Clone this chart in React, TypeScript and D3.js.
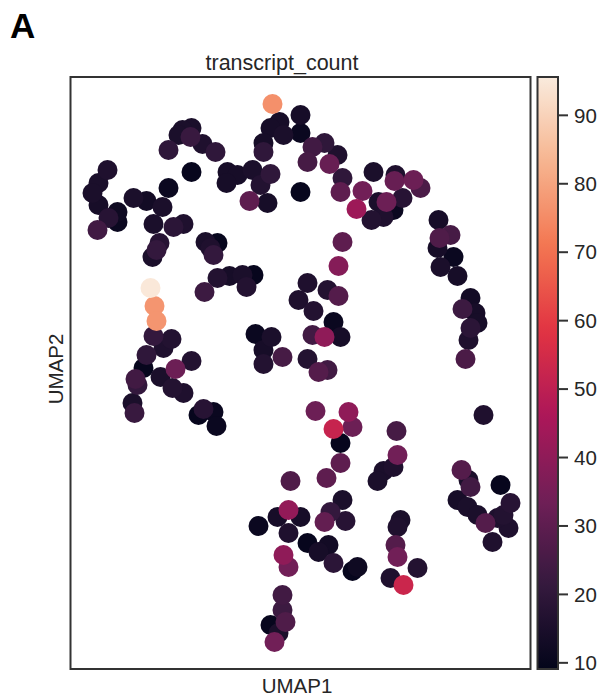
import React from "react";
import * as d3 from "d3";

// UMAP coordinates (arbitrary units) and transcript counts
const umap1: number[] = [
  20.2, 23.0, 20.9, 20.0, 21.3, 23.0, 19.3, 19.3, 23.7, 23.0,
  12.1, 11.2, 10.8, 12.0, 13.2, 14.5, 9.8, 12.1, 3.7, 2.8,
  2.2, 2.8, 3.8, 4.7, 4.7, 2.7, 6.3, 7.6, 9.2, 9.8,
  8.3, 10.3, 11.3, 8.9, 8.6, 8.2, 13.5, 14.7, 14.0, 14.3,
  15.7, 16.7, 15.6, 18.2, 20.0, 19.0, 17.9, 19.7,
  24.2, 25.4, 26.7, 25.9, 27.2, 27.0, 29.2, 28.6, 30.3, 32.5,
  32.4, 34.3, 35.0, 33.2, 31.6, 30.8, 32.3, 31.3, 30.1, 36.8,
  38.0, 36.9, 36.7, 38.3, 37.0, 38.7, 27.2, 26.8,
  8.0, 8.4, 8.6, 8.3, 10.1, 9.3, 7.6, 7.3, 6.5, 6.7,
  9.0, 10.5, 12.1, 10.2, 11.3, 6.2, 6.4, 13.3, 12.8, 14.3,
  14.6, 13.4, 14.7, 15.9, 17.2, 18.3, 17.6,
  18.5, 20.1, 19.3, 19.3, 21.2, 22.8, 23.7, 25.7, 26.8, 24.3,
  26.3, 27.0, 24.2, 25.4, 23.7, 24.8, 25.7,
  40.0, 39.2, 40.5, 40.7, 40.0, 39.8, 39.5, 41.3,
  24.5, 27.8, 28.2, 26.3, 27.0, 27.0, 25.6, 32.6, 32.7, 32.3,
  31.3, 30.7, 39.1,
  22.0, 21.8, 20.7, 23.0, 18.8, 21.8, 23.7, 21.3, 21.8, 21.2,
  21.2, 21.5, 20.0, 20.8, 20.4,
  27.2, 26.0, 25.4, 27.5, 24.8, 25.8, 26.3, 28.7, 28.2, 33.0,
  32.7, 32.5, 32.7, 34.7, 32.0, 33.3, 40.0, 39.8, 38.7, 39.7,
  43.0, 44.0, 43.3, 41.5, 43.8, 42.2, 40.7, 42.7,
];

const umap2: number[] = [
  56.5, 55.4, 54.7, 54.1, 53.4, 53.6, 52.6, 51.7, 50.7, 47.7,
  54.1, 53.9, 53.4, 53.2, 52.5, 51.7, 51.9, 49.7, 49.9, 48.6,
  47.6, 46.4, 45.1, 44.7, 45.7, 43.9, 47.1, 46.8, 46.2, 48.1,
  44.5, 44.2, 44.5, 42.6, 41.9, 41.2, 42.7, 42.6, 42.1, 41.4,
  49.7, 49.4, 48.6, 49.9, 49.5, 48.4, 46.8, 46.6,
  52.2, 52.6, 51.4, 50.5, 49.1, 47.7, 47.8, 46.0, 49.7, 49.4,
  48.8, 48.9, 48.1, 47.1, 46.7, 46.7, 45.9, 45.2, 44.9, 44.9,
  43.4, 43.1, 42.1, 41.2, 40.2, 39.3, 42.7, 40.3,
  38.1, 36.3, 34.8, 33.3, 33.0, 32.1, 31.4, 30.1, 29.0, 28.4,
  29.2, 30.0, 30.8, 28.1, 27.6, 26.6, 25.6, 26.0, 25.4, 25.7,
  24.3, 37.7, 39.1, 39.3, 39.4, 39.4, 38.2,
  33.5, 33.2, 31.9, 30.5, 31.2, 36.9, 38.6, 37.9, 37.3, 35.8,
  34.7, 33.2, 33.4, 33.2, 31.0, 29.7, 29.9,
  37.1, 36.0, 35.6, 34.6, 34.1, 32.9, 31.0, 25.4,
  25.8, 25.7, 24.2, 24.0, 22.6, 20.6, 19.1, 23.8, 21.4, 20.2,
  19.8, 18.8, 19.9,
  18.8, 15.9, 15.2, 15.2, 14.3, 13.6, 12.6, 11.4, 10.2, 7.4,
  5.9, 4.7, 4.4, 3.6, 2.7,
  16.9, 15.7, 14.7, 14.8, 11.7, 12.4, 10.6, 10.2, 9.8, 14.9,
  14.2, 12.4, 11.2, 10.1, 9.1, 8.4, 18.2, 18.9, 16.9, 16.2,
  18.4, 16.6, 15.4, 14.6, 14.1, 12.7, 15.4, 15.1,
];

const transcriptCount: number[] = [
  76, 14, 14, 14, 15, 11, 14, 20, 25, 10,
  15, 15, 15, 22, 16, 20, 20, 10, 16, 15,
  15, 14, 18, 11, 12, 24, 15, 13, 15, 11,
  15, 19, 16, 18, 21, 15, 15, 10, 16, 21,
  14, 14, 14, 15, 20, 17, 30, 14,
  24, 20, 16, 32, 20, 30, 34, 43, 15, 16,
  32, 33, 26, 18, 33, 15, 11, 16, 17, 14,
  25, 27, 14, 11, 15, 14, 30, 38,
  95, 77, 77, 21, 17, 16, 20, 10, 24, 21,
  15, 33, 17, 17, 16, 15, 22, 18, 10, 11,
  11, 23, 17, 14, 15, 10, 17,
  11, 15, 14, 17, 25, 16, 16, 17, 28, 17,
  11, 14, 24, 40, 17, 28, 24,
  13, 23, 14, 14, 19, 16, 26, 16,
  33, 40, 33, 52, 10, 30, 30, 25, 34, 16,
  15, 15, 28,
  27, 41, 14, 14, 11, 16, 10, 40, 34, 24,
  23, 27, 10, 15, 34,
  15, 21, 31, 18, 14, 13, 19, 12, 10, 15,
  16, 28, 34, 17, 16, 53, 24, 15, 14, 15,
  10, 18, 17, 28, 16, 16, 15, 16,
];

const colorTicks: number[] = [10, 20, 30, 40, 50, 60, 70, 80, 90];
const colorDomain: [number, number] = [9.1, 95.6];

const rocketStops: string[] = [
  "#03051a", "#35193e", "#701f57", "#ad1759",
  "#e13342", "#f37651", "#f6b48f", "#faebdd",
];

export default function App() {
  const W = 601;
  const H = 697;
  const left = 70.5, right = 530.5, top = 77, bottom = 669;
  const cbLeft = 537.5, cbRight = 558;
  const font = "Arial, 'Liberation Sans', Helvetica, sans-serif";

  const x = d3.scaleLinear().domain([0, 46]).range([left, left + 460]);
  const y = d3.scaleLinear().domain([0, 59.2]).range([bottom, bottom - 592]);

  const tScale = d3.scaleLinear().domain(colorDomain).range([0, 1]).clamp(true);
  const rocket = d3
    .scaleLinear<string>()
    .domain(rocketStops.map((_, i) => i / (rocketStops.length - 1)))
    .range(rocketStops)
    .interpolate(d3.interpolateRgb);
  const color = (v: number) => rocket(tScale(v));

  const cbY = d3.scaleLinear().domain(colorDomain).range([bottom, top]);

  const pts = umap1
    .map((u, i) => ({ u, v: umap2[i], c: transcriptCount[i] }))
    .sort((a, b) => a.c - b.c);

  const gradStops = d3.range(0, 1.0001, 0.02);

  return (
    <svg width={W} height={H} style={{ position: "absolute", left: 0, top: 0, background: "#fff" }}>
      <defs>
        <linearGradient id="cbgrad" x1="0" y1="1" x2="0" y2="0">
          {gradStops.map((t) => (
            <stop key={t} offset={t} stopColor={rocket(t)} />
          ))}
        </linearGradient>
        <clipPath id="plotclip">
          <rect x={left} y={top} width={right - left} height={bottom - top} />
        </clipPath>
      </defs>
      <rect x={0} y={0} width={W} height={H} fill="#fff" />
      <text x={10} y={38} fontFamily={font} fontWeight="bold" fontSize={35} fill="#000">
        A
      </text>
      <text x={282} y={70} fontFamily={font} fontSize={21.5} fill="#262626" textAnchor="middle">
        transcript_count
      </text>
      <g clipPath="url(#plotclip)">
        {pts.map((p, i) => (
          <circle key={i} cx={x(p.u)} cy={y(p.v)} r={10} fill={color(p.c)} />
        ))}
      </g>
      <rect x={left} y={top} width={right - left} height={bottom - top} fill="none" stroke="#333" strokeWidth={2} />
      <text x={297} y={693} fontFamily={font} fontSize={20.5} fill="#262626" textAnchor="middle">
        UMAP1
      </text>
      <text
        transform={`translate(63, ${(top + bottom) / 2 - 4}) rotate(-90)`}
        fontFamily={font}
        fontSize={20.5}
        fill="#262626"
        textAnchor="middle"
      >
        UMAP2
      </text>
      <rect x={cbLeft} y={top} width={cbRight - cbLeft} height={bottom - top} fill="url(#cbgrad)" />
      <rect x={cbLeft} y={top} width={cbRight - cbLeft} height={bottom - top} fill="none" stroke="#333" strokeWidth={2} />
      {colorTicks.map((t) => (
        <g key={t}>
          <line x1={cbRight} x2={cbRight + 10} y1={cbY(t)} y2={cbY(t)} stroke="#333" strokeWidth={2} />
          <text x={cbRight + 16} y={cbY(t)} dy="0.35em" fontFamily={font} fontSize={20.5} fill="#262626">
            {t}
          </text>
        </g>
      ))}
    </svg>
  );
}
